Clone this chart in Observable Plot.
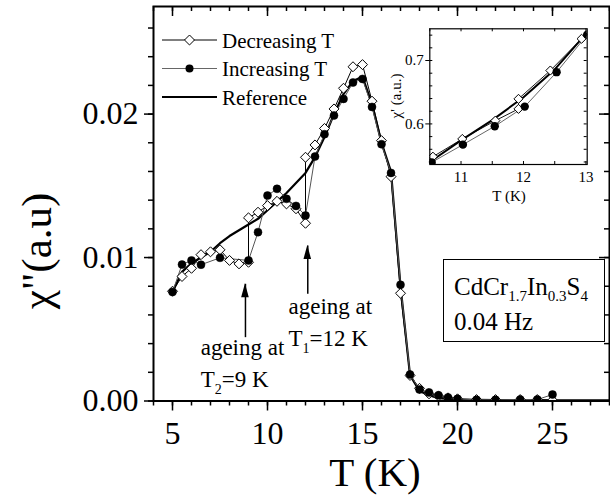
<!DOCTYPE html>
<html><head><meta charset="utf-8">
<script src="https://cdn.jsdelivr.net/npm/d3@7"></script>
<script src="https://cdn.jsdelivr.net/npm/@observablehq/plot@0.6"></script>
<style>
body{margin:0;background:#fff;}
#wrap{position:relative;width:610px;height:497px;font-family:"Liberation Serif","Times New Roman",serif;}
#wrap svg{position:absolute;overflow:visible;}
#box{position:absolute;left:443px;top:259px;width:162px;height:83px;border:1px solid #000;box-sizing:border-box;font-size:25px;line-height:34px;color:#000;}
#box .l1{position:absolute;left:10px;top:10px;white-space:nowrap;}
#box .l2{position:absolute;left:10px;top:45px;white-space:nowrap;}
#box sub{font-size:15px;vertical-align:-6px;line-height:0;}
</style></head><body><div id="wrap"><div id="box"><div class="l1">CdCr<sub>1.7</sub>In<sub>0.3</sub>S<sub>4</sub></div><div class="l2">0.04 Hz</div></div></div>
<script>
// ---------- main panel data ----------
const decT   = [5.0, 5.5, 6.0, 6.5, 7.0, 7.5, 8.0, 8.5, 9.0, 9.0, 9.5, 10.0, 10.5, 11.0, 11.5, 12.0, 12.0, 12.5, 13.0, 13.5, 14.0, 14.5, 15.0, 15.5, 16.0, 16.5, 17.0, 17.5, 18.0, 18.5, 19.0, 19.5, 20.0, 21.0, 22.0, 23.3, 24.2, 25.0];
const decChi = [0.00765, 0.00868, 0.00925, 0.0102, 0.0104, 0.01054, 0.0098, 0.00956, 0.00967, 0.01277, 0.01316, 0.01362, 0.01392, 0.01374, 0.0134, 0.01239, 0.01699, 0.01785, 0.0190, 0.02036, 0.0218, 0.0233, 0.02345, 0.0209, 0.01815, 0.01564, 0.00751, 0.00178, 0.00088, 0.0005, 0.00035, 0.00022, 0.00015, 0.0001, 0.0001, 0.0001, 0.0001, 0.00005];
const incT   = [5.0, 5.5, 6.0, 6.5, 7.5, 9.0, 9.5, 10.0, 10.5, 11.0, 11.5, 12.0, 12.5, 13.0, 13.5, 14.0, 14.5, 15.0, 15.5, 16.0, 16.5, 17.0, 17.5, 18.0, 18.5, 19.0, 19.5, 20.0, 21.0, 22.0, 23.3, 24.2, 25.0];
const incChi = [0.0076, 0.00951, 0.0098, 0.0095, 0.00998, 0.0098, 0.01177, 0.01432, 0.01479, 0.01409, 0.0136, 0.01293, 0.01704, 0.0186, 0.0199, 0.02106, 0.0222, 0.02245, 0.0205, 0.0179, 0.0159, 0.0081, 0.00185, 0.0008, 0.0006, 0.0004, 0.00025, 0.00015, 0.00008, 0.00008, 0.0001, 0.0001, 0.00045];
const refT   = [5.0, 5.5, 6.0, 6.5, 7.0, 7.5, 8.0, 8.5, 9.0, 9.5, 10.0, 10.5, 11.0, 11.5, 12.0, 12.5, 13.0, 13.5, 14.0, 14.5, 15.0, 15.5, 16.0, 16.5, 17.0, 17.5, 18.0, 18.5, 19.0, 20.0, 22.0, 25.0, 28.0];
const refChi = [0.0076, 0.0090, 0.0096, 0.0100, 0.0104, 0.0110, 0.0115, 0.0119, 0.0123, 0.0127, 0.0133, 0.0139, 0.0145, 0.0152, 0.0159, 0.0170, 0.0184, 0.0200, 0.0214, 0.0223, 0.0226, 0.0207, 0.0180, 0.0160, 0.0080, 0.0018, 0.0007, 0.0004, 0.0002, 0.0001, 0.00006, 0.00005, 0.00005];
const xMajor = [5, 10, 15, 20, 25];
const xMinor = d3.range(4, 29, 1);
const yMajor = [0, 0.01, 0.02];
const yMinor = d3.range(0, 0.0276, 0.002);
// annotations
const arrowT    = [8.84, 12.12];
const arrowTip  = [0.00817, 0.01084];
const arrowTail = [0.00445, 0.00747];
// ---------- inset data ----------
const inDecT   = [12.93, 12.43, 11.92, 11.92, 11.55, 11.02, 10.55];
const inDecChi = [0.7343, 0.6842, 0.6395, 0.6237, 0.6052, 0.5763, 0.5483];
const inIncT   = [10.53, 11.03, 11.54, 12.02, 12.53, 13.02];
const inIncChi = [0.5394, 0.5673, 0.5963, 0.6273, 0.6816, 0.7406];
const inRefT   = [10.5, 11.0, 11.5, 12.0, 12.5, 13.0];
const inRefChi = [0.540, 0.574, 0.606, 0.642, 0.686, 0.742];
const inXMajor = [11, 12, 13];
const inXMinor = [10.5, 11, 11.5, 12, 12.5, 13];
const inYMajor = [0.6, 0.7];
const inYMinor = d3.range(0.54, 0.751, 0.02);

const zip = (a, b) => a.map((t, i) => ({T: t, chi: b[i]}));
const dec = zip(decT, decChi), inc = zip(incT, incChi), ref = zip(refT, refChi);
const iDec = zip(inDecT, inDecChi), iInc = zip(inIncT, inIncChi), iRef = zip(inRefT, inRefChi);
const arrows = arrowT.map((t, i) => ({T: t, tip: arrowTip[i], tail: arrowTail[i]}));

const FONT = "Liberation Serif, Times New Roman, serif";
const W = 610, H = 497, mL = 153, mR = 1, mT = 6, mB = 96.5;
const pH = H - mT - mB, pW = W - mL - mR;

const main = Plot.plot({
  width: W, height: H, marginLeft: mL, marginRight: mR, marginTop: mT, marginBottom: mB,
  x: {domain: [4, 28]}, y: {domain: [0, 0.0275]},
  style: {fontFamily: FONT, fontSize: "32px", color: "#000", background: "transparent", overflow: "visible"},
  marks: [
    Plot.line(ref, {x: "T", y: "chi", stroke: "#000", strokeWidth: 2.2}),
    Plot.line(dec, {x: "T", y: "chi", stroke: "#000", strokeWidth: 1}),
    Plot.line(inc, {x: "T", y: "chi", stroke: "#555", strokeWidth: 1}),
    Plot.dot(dec, {x: "T", y: "chi", symbol: "diamond2", r: 4.5, fill: "#fff", stroke: "#000", strokeWidth: 1, clip: true}),
    Plot.dot(inc, {x: "T", y: "chi", r: 4, fill: "#000", stroke: "#000", strokeWidth: 0.5, clip: true}),
    Plot.link(arrows, {x1: "T", x2: "T", y1: "tail", y2: "tip", stroke: "#000", strokeWidth: 1.5}),
    Plot.axisX(xMajor, {tickSize: 10, tickPadding: 10, label: null, strokeWidth: 1.5, fontSize: 32}),
    Plot.axisX(xMinor, {tickSize: 5, tickFormat: () => "", label: null, strokeWidth: 1.5}),
    Plot.axisY(yMajor, {tickSize: 9, tickPadding: 6, tickFormat: d3.format(".2f"), label: null, strokeWidth: 1.5, fontSize: 32}),
    Plot.axisY(yMinor, {tickSize: 5, tickFormat: () => "", label: null, strokeWidth: 1.5}),
    Plot.ruleX(xMajor, {insetBottom: pH - 10, strokeWidth: 1.5}),
    Plot.ruleX(xMinor, {insetBottom: pH - 5, strokeWidth: 1.5}),
    Plot.ruleY(yMajor, {insetLeft: pW - 10, strokeWidth: 1.5}),
    Plot.ruleY(yMinor, {insetLeft: pW - 5, strokeWidth: 1.5}),
    Plot.frame({stroke: "#000", strokeWidth: 2})
  ]
});
main.style.left = "0px"; main.style.top = "0px";
document.getElementById("wrap").appendChild(main);

const xs = main.scale("x"), ys = main.scale("y");
const svg = d3.select(main);
// arrow heads
arrows.forEach(a => {
  const x = xs.apply(a.T), y = ys.apply(a.tip);
  svg.append("path").attr("d", `M${x},${y}L${x - 3.8},${y + 14}L${x + 3.8},${y + 14}Z`).attr("fill", "#000");
});
// axis titles
svg.append("text").attr("transform", "translate(51,251) rotate(-90)").attr("text-anchor", "middle")
  .attr("font-family", FONT).attr("font-size", 43).attr("fill", "#000").text("χ\"(a.u)");
svg.append("text").attr("x", 375).attr("y", 486).attr("text-anchor", "middle")
  .attr("font-family", FONT).attr("font-size", 41).attr("fill", "#000").text("T (K)");
// annotation texts
function subText(x, y, parts, size) {
  const t = svg.append("text").attr("x", x).attr("y", y).attr("text-anchor", "start")
    .attr("font-family", FONT).attr("font-size", size).attr("fill", "#000");
  parts.forEach(p => {
    const s = t.append("tspan").text(p.t);
    if (p.sub) s.attr("font-size", 14).attr("dy", 7);
    else if (p.back) s.attr("dy", -7);
  });
}
const annX2 = xs.apply(6.51), annX1 = xs.apply(11.13);
subText(annX2, ys.apply(0.00317), [{t: "ageing at"}], 23);
subText(annX2, ys.apply(0.00096), [{t: "T"}, {t: "2", sub: true}, {t: "=9 K", back: true}], 23);
subText(annX1, ys.apply(0.00603), [{t: "ageing at"}], 23);
subText(annX1, ys.apply(0.00380), [{t: "T"}, {t: "1", sub: true}, {t: "=12 K", back: true}], 23);

// legend
const legend = [
  {label: "Decreasing T", stroke: "#000", sw: 1, sym: "diamond"},
  {label: "Increasing T", stroke: "#666", sw: 1, sym: "circle"},
  {label: "Reference", stroke: "#000", sw: 2.2, sym: null}
];
legend.forEach((d, i) => {
  const y = 40 + i * 28.5;
  svg.append("line").attr("x1", 162).attr("x2", 217).attr("y1", y).attr("y2", y).attr("stroke", d.stroke).attr("stroke-width", d.sw);
  if (d.sym === "diamond") svg.append("path").attr("transform", `translate(189.5,${y})`).attr("d", d3.symbol(d3.symbolDiamond2, Math.PI * 4.5 * 4.5)()).attr("fill", "#fff").attr("stroke", "#000");
  if (d.sym === "circle") svg.append("circle").attr("cx", 189.5).attr("cy", y).attr("r", 4).attr("fill", "#000");
  svg.append("text").attr("x", 222).attr("y", y + 7.5).attr("text-anchor", "start")
    .attr("font-family", FONT).attr("font-size", 21).attr("fill", "#000").text(d.label);
});

// ---------- inset ----------
const iW = 220, iH = 215, iL = 49.3, iT = 28.3, iR = 13.3, iB = 51;
const ipH = iH - iT - iB, ipW = iW - iL - iR;
const inset = Plot.plot({
  width: iW, height: iH, marginLeft: iL, marginTop: iT, marginRight: iR, marginBottom: iB,
  x: {domain: [10.5, 13.02]}, y: {domain: [0.536, 0.75]},
  style: {fontFamily: FONT, fontSize: "15px", color: "#000", background: "transparent", overflow: "visible"},
  marks: [
    Plot.frame({fill: "#fff", stroke: null}),
    Plot.line(iRef, {x: "T", y: "chi", stroke: "#000", strokeWidth: 2}),
    Plot.line(iDec, {x: "T", y: "chi", stroke: "#000", strokeWidth: 0.9}),
    Plot.line(iInc, {x: "T", y: "chi", stroke: "#555", strokeWidth: 0.9}),
    Plot.dot(iDec, {x: "T", y: "chi", symbol: "diamond2", r: 4.1, fill: "#fff", stroke: "#000", strokeWidth: 1, clip: true}),
    Plot.dot(iInc, {x: "T", y: "chi", r: 4.2, fill: "#000", clip: true}),
    Plot.axisX(inXMajor, {tickSize: 0, tickPadding: 7, label: null, fontSize: 15}),
    Plot.axisY(inYMajor, {tickSize: 4, tickPadding: 2, tickFormat: d3.format(".1f"), label: null, fontSize: 15}),
    Plot.ruleX(inXMinor, {insetTop: ipH - 3, strokeWidth: 1}),
    Plot.ruleX(inXMinor, {insetBottom: ipH - 3, strokeWidth: 1}),
    Plot.ruleY(inYMinor, {insetLeft: ipW - 3, strokeWidth: 1}),
    Plot.ruleY(inYMinor, {insetRight: ipW - 3, strokeWidth: 1}),
    Plot.frame({stroke: "#000", strokeWidth: 1.2})
  ]
});
inset.style.left = "380px"; inset.style.top = "0px";
document.getElementById("wrap").appendChild(inset);
const isvg = d3.select(inset);
isvg.append("text").attr("transform", "translate(21,96) rotate(-90)").attr("text-anchor", "middle")
  .attr("font-family", FONT).attr("font-size", 15).attr("fill", "#000").text("χ' (a.u.)");
isvg.append("text").attr("x", 129).attr("y", 201).attr("text-anchor", "middle")
  .attr("font-family", FONT).attr("font-size", 15).attr("fill", "#000").text("T (K)");
</script>
</body></html>
